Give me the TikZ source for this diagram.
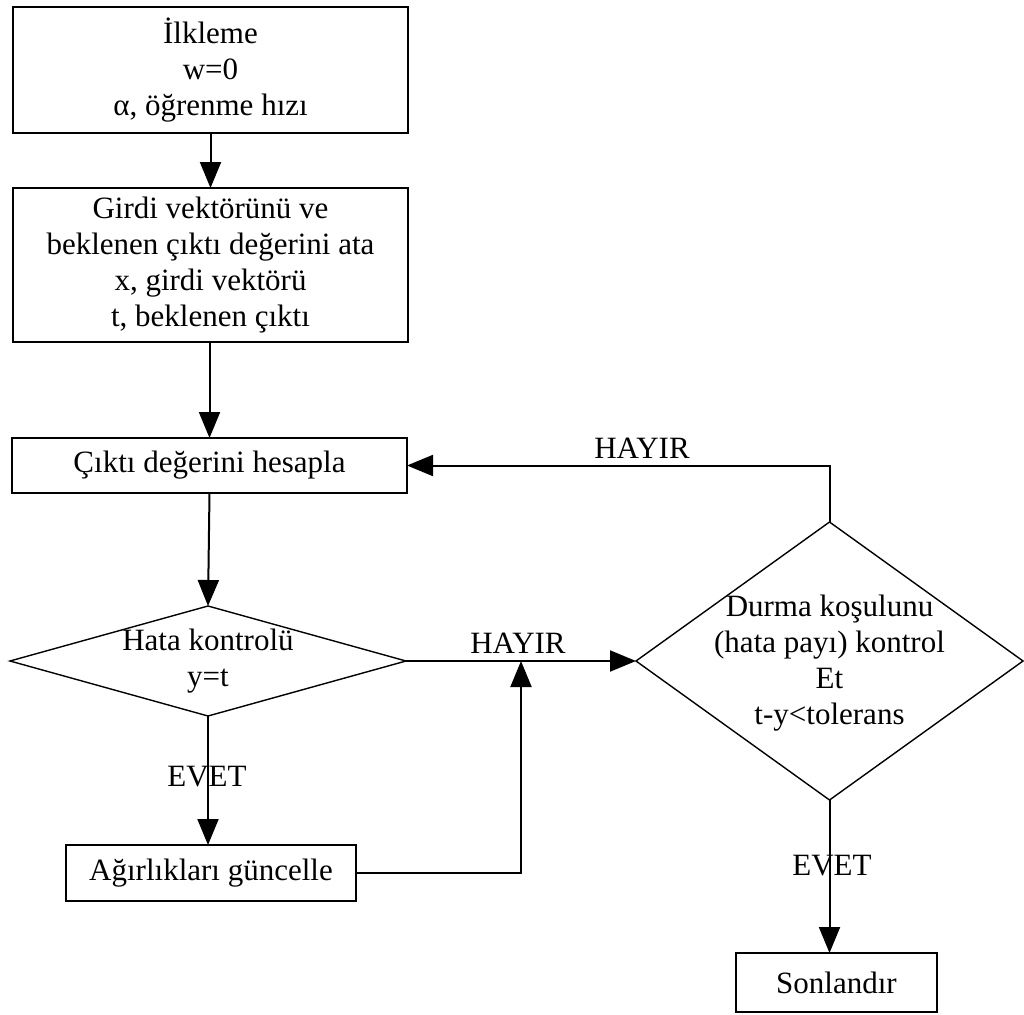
\documentclass[tikz,border=0pt]{standalone}
\usepackage{fontspec}
\setmainfont{Liberation Serif}
\usetikzlibrary{shapes.geometric,arrows.meta}
\begin{document}
\begin{tikzpicture}[x=1pt,y=-1pt,
  every node/.style={font=\fontsize{31}{36}\selectfont},
  box/.style={draw, line width=2pt, rectangle, inner sep=0pt, outer sep=0pt, align=center},
  decision/.style={draw, line width=1.4pt, diamond, inner sep=0pt, outer sep=0pt},
  txt/.style={inner sep=0pt, align=center},
  flow/.style={line width=2pt, -{Triangle[length=26pt,width=21pt]}},
  link/.style={line width=2pt}
]
\useasboundingbox (0,0) rectangle (1024,1014);

% process boxes
\node[box, minimum width=395pt, minimum height=126pt] (init) at (210.5,70)
  {İlkleme\\w=0\\α, öğrenme hızı};
\node[box, minimum width=395pt, minimum height=154pt] (assign) at (210.5,265)
  {Girdi vektörünü ve\\beklenen çıktı değerini ata\\x, girdi vektörü\\t, beklenen çıktı};
\node[box, minimum width=395pt, minimum height=55pt] (calc) at (209.5,465.5)
  {Çıktı değerini hesapla};
\node[box, minimum width=290pt, minimum height=56pt] (update) at (211,873)
  {Ağırlıkları güncelle};
\node[box, minimum width=201pt, minimum height=59pt] (stop) at (836.5,982.5)
  {Sonlandır};

% decisions
\node[decision, minimum width=396pt, minimum height=110pt] (check) at (208,661) {};
\node[txt] (checkt) at (208,661) {Hata kontrolü\\y=t};
\node[decision, minimum width=387pt, minimum height=278pt] (cond) at (829.5,661) {};
\node[txt] (condt) at (829.5,663) {Durma koşulunu\\(hata payı) kontrol\\Et\\t-y<tolerans};

% connectors
\coordinate (join) at (521,661);
\draw[flow] (init.south) -- (assign.north);
\draw[flow] (calc.north |- assign.south) -- (calc.north);
\draw[flow] (calc.south) -- (check.north);
\draw[flow] (check.south) -- (check.south |- update.north);
\draw[flow] (check.east) -- (cond.west);
\draw[flow] (update.east) -| (join);
\draw[flow] (cond.north) |- (calc.east);
\draw[flow] (cond.south) -- (cond.south |- stop.north);

% branch labels
\node[txt] (no1) at (518,643) {HAYIR};
\node[txt] (no2) at (642,448) {HAYIR};
\node[txt] (yes1) at (207,777) {EVET};
\node[txt] (yes2) at (832,866) {EVET};
\end{tikzpicture}
\end{document}
